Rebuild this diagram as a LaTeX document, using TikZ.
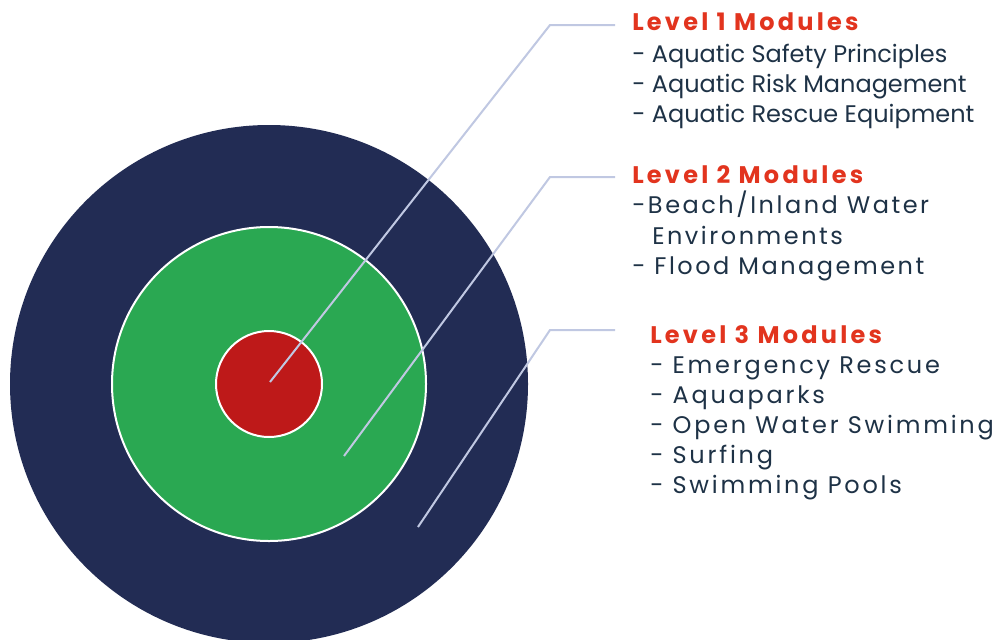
\documentclass[tikz,border=0pt]{standalone}
\usepackage{fontspec}
\setmainfont{Poppins}
\definecolor{navy}{RGB}{34,44,84}
\definecolor{midgreen}{RGB}{42,168,82}
\definecolor{darkred}{RGB}{190,25,25}
\definecolor{headred}{RGB}{226,52,30}
\definecolor{bodytext}{RGB}{30,50,70}
\definecolor{leader}{RGB}{192,200,226}
\begin{document}
\begin{tikzpicture}[x=0.75pt,y=-0.75pt,
  ring/.style={circle,inner sep=0pt,draw=white,line width=1.5pt},
  leaderline/.style={draw=leader,line width=1.5pt},
  head/.style={anchor=base west,inner sep=0pt,text=headred,font=\fontsize{18}{21}\selectfont\bfseries\addfontfeatures{LetterSpace=13.5}},
  item/.style={anchor=base west,inner sep=0pt,text=bodytext,font=\fontsize{18}{21}\selectfont},
  itemb/.style={item,font=\fontsize{18}{21}\selectfont\addfontfeatures{LetterSpace=10.5}},
  itemc/.style={item,font=\fontsize{18}{21}\selectfont\addfontfeatures{LetterSpace=11.5}}]
\useasboundingbox (0,0) rectangle (998,639);
\fill[white] (0,0) rectangle (998,639);
\clip (0,0) rectangle (998,639);
\node[circle,inner sep=0pt,fill=navy,minimum size=518*0.75pt] (outer) at (269,384) {};
\node[ring,fill=midgreen,minimum size=314*0.75pt] (mid) at (269,384) {};
\node[ring,fill=darkred,minimum size=106*0.75pt] (inner) at (269,384) {};
\coordinate (p1) at (270,382);
\coordinate (p2) at (344,456);
\coordinate (p3) at (418,527);
\coordinate (k1) at (550,25);
\coordinate (k2) at (550,177);
\coordinate (k3) at (550,330);
\coordinate (e1) at (615,25);
\coordinate (e2) at (615,177);
\coordinate (e3) at (615,330);
\draw[leaderline] (p1) -- (k1) -- (e1);
\draw[leaderline] (p2) -- (k2) -- (e2);
\draw[leaderline] (p3) -- (k3) -- (e3);
\node[head] (h1) at (632,30) {Level 1 Modules};
\node[item] (a1) at (632,62) {- Aquatic Safety Principles};
\node[item] (a2) at (632,92) {- Aquatic Risk Management};
\node[item] (a3) at (632,122) {- Aquatic Rescue Equipment};
\node[head] (h2) at (632,183) {Level 2 Modules};
\node[itemb] (b1) at (632,213) {-Beach/Inland Water};
\node[itemb] (b2) at (652,244) {Environments};
\node[itemb] (b3) at (632,274) {- Flood Management};
\node[head] (h3) at (650,343) {Level 3 Modules};
\node[itemc] (c1) at (650,373) {- Emergency Rescue};
\node[itemc] (c2) at (650,403) {- Aquaparks};
\node[itemc] (c3) at (650,433) {- Open Water Swimming};
\node[itemc] (c4) at (650,463) {- Surfing};
\node[itemc] (c5) at (650,493) {- Swimming Pools};
\end{tikzpicture}
\end{document}
